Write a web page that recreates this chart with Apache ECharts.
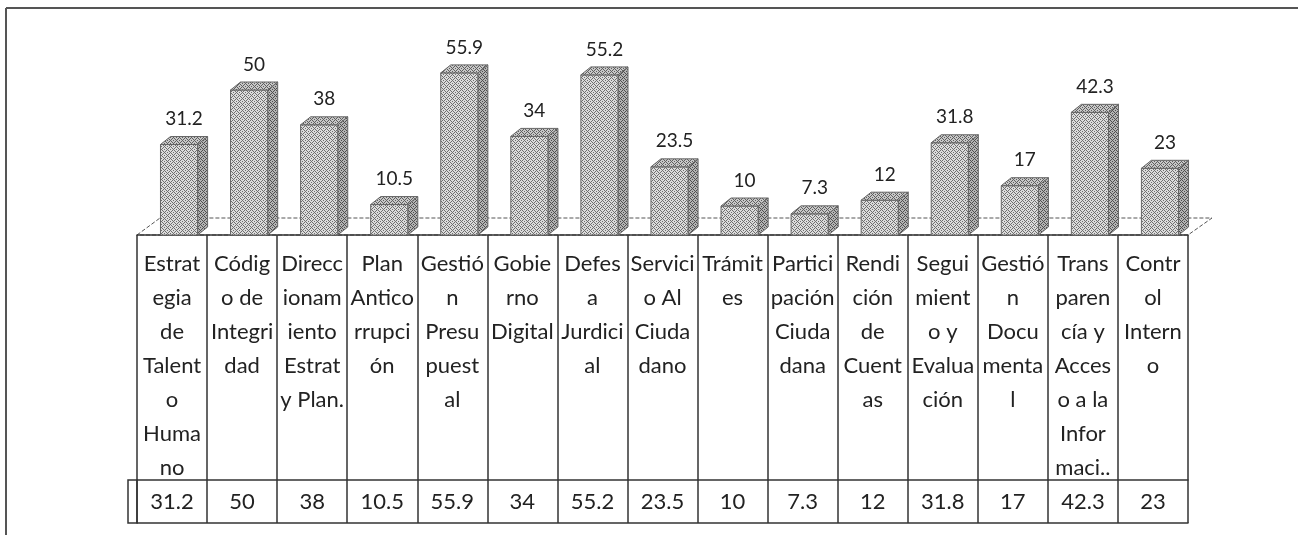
<!DOCTYPE html>
<html>
<head>
<meta charset="utf-8">
<script src="https://cdn.jsdelivr.net/npm/echarts@6/dist/echarts.min.js"></script>
<style>
  html, body { margin: 0; padding: 0; background: #fff; }
  #chart { width: 1298px; height: 535px; }
</style>
</head>
<body>
<div id="chart"></div>
<script>
// etiquetas tal como salen partidas en la tabla
var categories = [
  'Estrat\negia\nde\nTalent\no\nHuma\nno',
  'Códig\no de\nIntegri\ndad',
  'Direcc\nionam\niento\nEstrat\ny Plan.',
  'Plan\nAntico\nrrupci\nón',
  'Gestió\nn\nPresu\npuest\nal',
  'Gobie\nrno\nDigital',
  'Defes\na\nJurdici\nal',
  'Servici\no Al\nCiuda\ndano',
  'Trámit\nes',
  'Partici\npación\nCiuda\ndana',
  'Rendi\nción\nde\nCuent\nas',
  'Segui\nmient\no y\nEvalua\nción',
  'Gestió\nn\nDocu\nmenta\nl',
  'Trans\nparen\ncía y\nAcces\no a la\nInfor\nmaci..',
  'Contr\nol\nIntern\no'
];
var values = [31.2, 50, 38, 10.5, 55.9, 34, 55.2, 23.5, 10, 7.3, 12, 31.8, 17, 42.3, 23];

// textura gris tipo fotocopia
function makePattern(base, dark) {
  var c = document.createElement('canvas');
  c.width = 6; c.height = 6;
  var ctx = c.getContext('2d');
  ctx.fillStyle = base;
  ctx.fillRect(0, 0, 6, 6);
  ctx.fillStyle = dark;
  [[0,0],[3,1],[1,3],[4,4],[5,2],[2,5],[4,0],[1,1],[5,5],[2,2],[0,4],[3,3]].forEach(function (p) {
    ctx.fillRect(p[0], p[1], 1, 1);
  });
  return { image: c, repeat: 'repeat' };
}
var frontFill = makePattern('#dcdcdc', '#6e6e6e');
var sideFill = makePattern('#b4b4b4', '#4e4e4e');
var topFill = makePattern('#c8c8c8', '#5e5e5e');

function renderBar(params, api) {
  var idx = api.value(0), val = api.value(1);
  var top = api.coord([idx, val]);
  var base = api.coord([idx, 0]);
  var band = api.size([1, 0])[0];
  var w = band * 0.53;
  var cx = top[0] + band * 0.1;
  var x0 = cx - w / 2, x1 = cx + w / 2;
  var dx = 10, dy = -8;
  var yt = top[1], yb = base[1];
  return {
    type: 'group',
    children: [
      { type: 'polygon', shape: { points: [[x1, yt], [x1 + dx, yt + dy], [x1 + dx, yb + dy], [x1, yb]] },
        style: { fill: sideFill, stroke: '#666', lineWidth: 1 } },
      { type: 'rect', shape: { x: x0, y: yt, width: w, height: yb - yt },
        style: { fill: frontFill, stroke: '#666', lineWidth: 1 } },
      { type: 'polygon', shape: { points: [[x0, yt], [x0 + dx, yt + dy], [x1 + dx, yt + dy], [x1, yt]] },
        style: { fill: topFill, stroke: '#666', lineWidth: 1 } },
      { type: 'text', x: cx + dx / 2, y: yt + dy - 8,
        style: { text: String(val), textAlign: 'center', textVerticalAlign: 'bottom',
                 font: '19px Lato', fill: '#222' } }
    ]
  };
}

var myChart = echarts.init(document.getElementById('chart'));
var lineCol = '#333';
var option = {
  backgroundColor: '#fff',
  animation: false,
  grid: { left: 137, right: 110, top: 61, bottom: 300 },
  xAxis: [
    {
      type: 'category', data: categories, position: 'bottom', boundaryGap: true,
      axisLine: { show: true, lineStyle: { color: lineCol, width: 1.5 } },
      axisTick: { show: true, length: 245, interval: 0, lineStyle: { color: lineCol, width: 1.5 } },
      axisLabel: { interval: 0, margin: 12, fontFamily: 'Lato', fontSize: 22, lineHeight: 34, color: '#222' }
    },
    {
      type: 'category', data: values.map(String), position: 'bottom', offset: 245, boundaryGap: true,
      axisLine: { show: true, lineStyle: { color: lineCol, width: 1.5 } },
      axisTick: { show: true, length: 43, interval: 0, lineStyle: { color: lineCol, width: 1.5 } },
      axisLabel: { interval: 0, margin: 11, fontFamily: 'Lato', fontSize: 22, lineHeight: 22, color: '#222' }
    },
    {
      type: 'category', data: values.map(String), position: 'bottom', offset: 288,
      axisLine: { show: true, lineStyle: { color: lineCol, width: 1.5 } },
      axisTick: { show: false }, axisLabel: { show: false }
    }
  ],
  yAxis: { type: 'value', min: 0, max: 60, show: false },
  graphic: [
    // marco exterior
    { type: 'line', z: 0, shape: { x1: 6, y1: 8, x2: 1298, y2: 8 }, style: { stroke: '#555', lineWidth: 2 } },
    { type: 'line', z: 0, shape: { x1: 6, y1: 8, x2: 6, y2: 535 }, style: { stroke: '#555', lineWidth: 2 } },
    // piso 3D
    { type: 'polygon', z: 0, shape: { points: [[137, 235], [160, 218], [1212, 218], [1188, 235]] },
      style: { fill: '#fff', stroke: '#555', lineWidth: 1, lineDash: [4, 2] } },
    // celda de la leyenda
    { type: 'rect', z: 0, shape: { x: 128, y: 480, width: 9, height: 43 },
      style: { fill: 'none', stroke: lineCol, lineWidth: 1.5 } }
  ],
  series: [
    {
      type: 'custom', z: 5,
      renderItem: renderBar,
      encode: { x: 0, y: 1 },
      data: values.map(function (v, i) { return [i, v]; })
    }
  ]
};
myChart.setOption(option);
</script>
</body>
</html>
